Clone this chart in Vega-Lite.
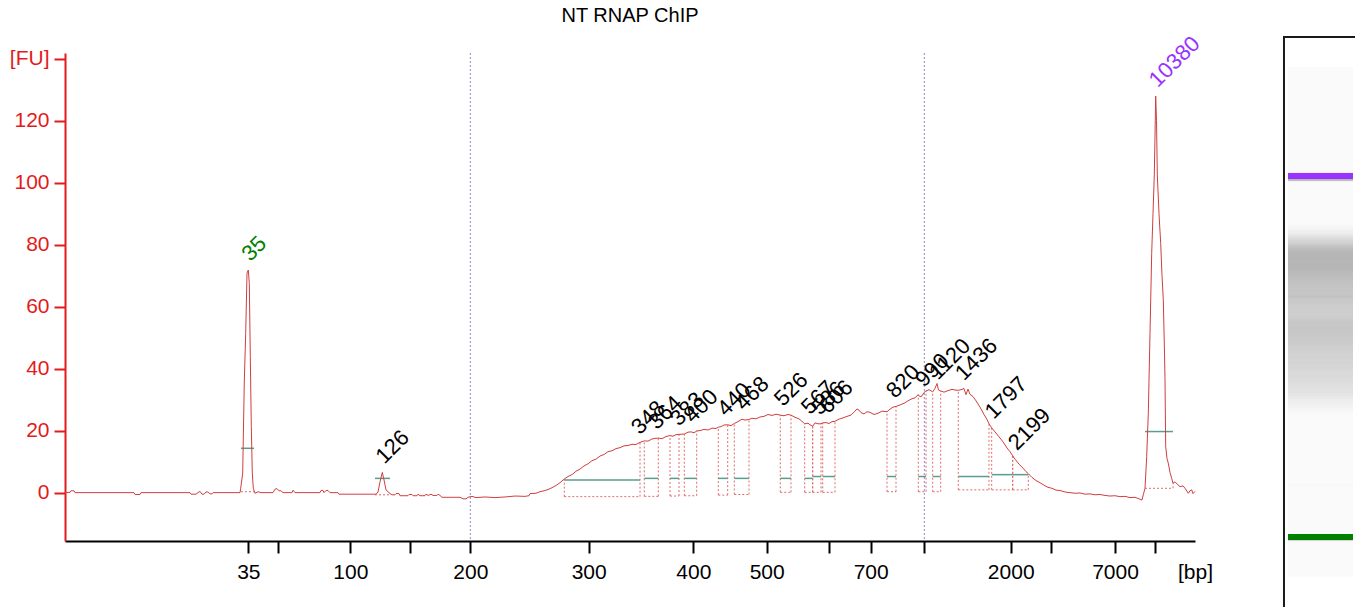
{
  "$schema": "https://vega.github.io/schema/vega-lite/v6.json",
  "width": 1130,
  "height": 488,
  "autosize": {"type": "none"},
  "padding": {"left": 65, "top": 53, "right": 160, "bottom": 66},
  "background": "white",
  "title": {"text": "NT RNAP ChIP", "fontSize": 20, "fontWeight": "normal", "font": "Liberation Sans", "color": "#000000", "offset": 6, "anchor": "middle"},
  "config": {"view": {"stroke": null}, "font": "Liberation Sans"},
  "datasets": {
    "trace": [
      {"t":6.5,"fu":0},{"t":7.0,"fu":0.1},{"t":7.1,"fu":0.6},{"t":7.4,"fu":0.6},{"t":7.5,"fu":0},{"t":13.4,"fu":0},{"t":13.5,"fu":-0.6},{"t":14.0,"fu":-0.6},{"t":14.1,"fu":0},{"t":19.0,"fu":0},{"t":19.1,"fu":-0.5},{"t":19.6,"fu":-0.5},{"t":19.8,"fu":0},{"t":20.0,"fu":0.4},{"t":20.2,"fu":-0.5},{"t":20.4,"fu":-0.5},{"t":20.6,"fu":0.2},{"t":20.8,"fu":0.2},{"t":21.0,"fu":-0.4},{"t":21.2,"fu":-0.4},{"t":21.3,"fu":0},{"t":24.0,"fu":0},{"t":24.07,"fu":1.4},{"t":24.27,"fu":6.3},{"t":24.43,"fu":36},{"t":24.57,"fu":51.4},{"t":24.7,"fu":70.8},{"t":24.83,"fu":71.8},{"t":24.93,"fu":67.5},{"t":25.03,"fu":43.9},{"t":25.13,"fu":21.3},{"t":25.23,"fu":6.3},{"t":25.33,"fu":1.4},{"t":25.5,"fu":-0.2},{"t":25.8,"fu":0.3},{"t":26.1,"fu":0},{"t":27.3,"fu":0},{"t":27.5,"fu":1.1},{"t":27.7,"fu":1.3},{"t":27.9,"fu":0.6},{"t":28.1,"fu":0.6},{"t":28.3,"fu":0},{"t":29.2,"fu":0},{"t":29.3,"fu":0.8},{"t":29.5,"fu":0},{"t":32.0,"fu":0},{"t":32.1,"fu":0.7},{"t":32.3,"fu":0.7},{"t":32.4,"fu":0},{"t":32.6,"fu":0.7},{"t":32.8,"fu":0.7},{"t":33.0,"fu":0},{"t":33.8,"fu":0},{"t":33.9,"fu":-0.5},{"t":37.6,"fu":-0.5},{"t":37.8,"fu":0.2},{"t":38.0,"fu":3.5},{"t":38.23,"fu":6.5},{"t":38.4,"fu":4.1},{"t":38.6,"fu":0.9},{"t":38.8,"fu":0.3},{"t":39.0,"fu":-0.3},{"t":39.2,"fu":-0.7},{"t":39.5,"fu":-0.7},{"t":39.6,"fu":-0.3},{"t":39.9,"fu":-0.3},{"t":40.0,"fu":-1.0},{"t":40.8,"fu":-1.0},{"t":40.9,"fu":-0.6},{"t":41.2,"fu":-0.6},{"t":41.3,"fu":-1.0},{"t":41.7,"fu":-1.0},{"t":41.8,"fu":-0.5},{"t":42.0,"fu":-1.0},{"t":42.5,"fu":-1.0},{"t":42.6,"fu":-0.5},{"t":42.8,"fu":-0.9},{"t":43.1,"fu":-0.5},{"t":43.3,"fu":-0.9},{"t":43.7,"fu":-0.9},{"t":43.8,"fu":-0.5},{"t":44.0,"fu":-0.9},{"t":44.2,"fu":-1.5},{"t":46.0,"fu":-1.5},{"t":46.3,"fu":-2.0},{"t":46.6,"fu":-2.0},{"t":46.8,"fu":-1.5},{"t":47.2,"fu":-1.2},{"t":47.6,"fu":-1.6},{"t":48.5,"fu":-1.4},{"t":49.5,"fu":-1.6},{"t":50.5,"fu":-1.4},{"t":51.5,"fu":-1.1},{"t":52.5,"fu":-1.2},{"t":52.9,"fu":-1.0},{"t":53.0,"fu":-0.3},{"t":53.6,"fu":-0.2},{"t":54.0,"fu":0.3},{"t":54.4,"fu":0.6},{"t":54.8,"fu":1.0},{"t":55.2,"fu":1.6},{"t":55.6,"fu":2.3},{"t":56.0,"fu":3.2},{"t":56.43,"fu":4.4},{"t":56.8,"fu":5.2},{"t":57.2,"fu":5.8},{"t":57.6,"fu":6.9},{"t":58.0,"fu":7.6},{"t":58.4,"fu":8.6},{"t":58.8,"fu":9.3},{"t":59.2,"fu":10.3},{"t":59.6,"fu":10.8},{"t":60.0,"fu":11.8},{"t":60.4,"fu":12.3},{"t":60.8,"fu":13.2},{"t":61.2,"fu":13.5},{"t":61.6,"fu":14.2},{"t":62.0,"fu":14.5},{"t":62.4,"fu":15.1},{"t":62.8,"fu":15.2},{"t":63.2,"fu":15.6},{"t":63.6,"fu":15.5},{"t":63.8,"fu":15.9},{"t":64.0,"fu":16.2},{"t":64.43,"fu":16.7},{"t":64.8,"fu":16.6},{"t":65.2,"fu":17.3},{"t":65.5,"fu":17.5},{"t":65.83,"fu":17.6},{"t":66.2,"fu":17.4},{"t":66.6,"fu":18.1},{"t":67.0,"fu":18.4},{"t":67.3,"fu":18.2},{"t":67.6,"fu":18.7},{"t":67.9,"fu":18.8},{"t":68.43,"fu":18.9},{"t":68.8,"fu":19.5},{"t":69.1,"fu":19.6},{"t":69.4,"fu":19.3},{"t":69.67,"fu":19.9},{"t":70.0,"fu":20.0},{"t":70.4,"fu":20.4},{"t":70.8,"fu":20.2},{"t":71.2,"fu":20.8},{"t":71.6,"fu":20.7},{"t":71.83,"fu":21.1},{"t":72.1,"fu":21.3},{"t":72.4,"fu":21.8},{"t":72.77,"fu":21.9},{"t":73.1,"fu":21.6},{"t":73.43,"fu":22.3},{"t":73.8,"fu":22.9},{"t":74.2,"fu":23.7},{"t":74.5,"fu":23.4},{"t":74.9,"fu":23.6},{"t":75.2,"fu":24.0},{"t":75.6,"fu":23.8},{"t":76.0,"fu":24.4},{"t":76.4,"fu":24.6},{"t":76.8,"fu":25.2},{"t":77.2,"fu":24.9},{"t":77.6,"fu":25.3},{"t":78.03,"fu":25.0},{"t":78.4,"fu":24.8},{"t":78.8,"fu":25.2},{"t":79.1,"fu":25.0},{"t":79.5,"fu":24.3},{"t":79.9,"fu":23.8},{"t":80.2,"fu":23.0},{"t":80.47,"fu":22.2},{"t":80.8,"fu":22.4},{"t":81.0,"fu":21.9},{"t":81.27,"fu":21.4},{"t":81.5,"fu":22.5},{"t":81.8,"fu":22.2},{"t":82.1,"fu":22.2},{"t":82.27,"fu":22.5},{"t":82.6,"fu":22.6},{"t":82.9,"fu":22.3},{"t":83.2,"fu":22.9},{"t":83.5,"fu":23.0},{"t":83.9,"fu":23.7},{"t":84.3,"fu":24.1},{"t":84.7,"fu":24.6},{"t":85.1,"fu":25.0},{"t":85.5,"fu":26.3},{"t":85.7,"fu":27.0},{"t":85.9,"fu":26.6},{"t":86.1,"fu":25.8},{"t":86.4,"fu":25.4},{"t":86.7,"fu":26.1},{"t":87.0,"fu":25.9},{"t":87.4,"fu":25.2},{"t":87.8,"fu":25.6},{"t":88.2,"fu":26.3},{"t":88.7,"fu":26.1},{"t":89.0,"fu":26.9},{"t":89.3,"fu":27.6},{"t":89.6,"fu":27.8},{"t":90.0,"fu":28.3},{"t":90.4,"fu":28.8},{"t":90.8,"fu":29.6},{"t":91.2,"fu":30.3},{"t":91.5,"fu":30.6},{"t":91.83,"fu":31.6},{"t":92.0,"fu":30.9},{"t":92.2,"fu":31.2},{"t":92.4,"fu":32.3},{"t":92.6,"fu":32.8},{"t":92.9,"fu":33.2},{"t":93.27,"fu":32.5},{"t":93.5,"fu":33.6},{"t":93.7,"fu":35.2},{"t":93.85,"fu":33.1},{"t":94.07,"fu":32.8},{"t":94.4,"fu":32.4},{"t":94.8,"fu":32.9},{"t":95.2,"fu":33.3},{"t":95.5,"fu":33.1},{"t":95.83,"fu":33.0},{"t":96.2,"fu":33.3},{"t":96.4,"fu":33.6},{"t":96.6,"fu":31.6},{"t":96.8,"fu":33.4},{"t":97.0,"fu":31.7},{"t":97.3,"fu":31.0},{"t":97.6,"fu":29.6},{"t":98.0,"fu":27.6},{"t":98.4,"fu":25.2},{"t":98.7,"fu":23.6},{"t":98.9,"fu":22.2},{"t":99.17,"fu":20.9},{"t":99.5,"fu":19.6},{"t":99.9,"fu":18.0},{"t":100.3,"fu":16.4},{"t":100.7,"fu":14.4},{"t":101.0,"fu":13.2},{"t":101.27,"fu":11.9},{"t":101.5,"fu":10.8},{"t":101.9,"fu":9.2},{"t":102.3,"fu":7.9},{"t":102.6,"fu":6.8},{"t":102.83,"fu":6.1},{"t":103.2,"fu":4.9},{"t":103.6,"fu":3.9},{"t":104.0,"fu":3.2},{"t":104.4,"fu":2.4},{"t":104.8,"fu":1.7},{"t":105.2,"fu":1.4},{"t":105.6,"fu":0.8},{"t":106.0,"fu":0.7},{"t":106.5,"fu":0.2},{"t":107.0,"fu":0.0},{"t":107.5,"fu":-0.2},{"t":108.0,"fu":-0.1},{"t":108.5,"fu":-0.5},{"t":109.0,"fu":-0.4},{"t":109.5,"fu":-0.7},{"t":110.0,"fu":-0.6},{"t":110.5,"fu":-0.9},{"t":111.0,"fu":-1.1},{"t":111.5,"fu":-1.0},{"t":112.0,"fu":-1.3},{"t":112.5,"fu":-1.2},{"t":113.0,"fu":-1.6},{"t":113.5,"fu":-1.5},{"t":113.9,"fu":-2.0},{"t":114.2,"fu":-2.4},{"t":114.33,"fu":-0.7},{"t":114.5,"fu":1.4},{"t":114.67,"fu":11.6},{"t":114.83,"fu":25.6},{"t":115.0,"fu":51.4},{"t":115.17,"fu":77.2},{"t":115.3,"fu":90},{"t":115.43,"fu":102.5},{"t":115.5,"fu":115},{"t":115.57,"fu":127.9},{"t":115.65,"fu":120},{"t":115.73,"fu":102.5},{"t":115.9,"fu":90},{"t":116.07,"fu":80.4},{"t":116.2,"fu":70},{"t":116.33,"fu":62.2},{"t":116.45,"fu":45},{"t":116.5,"fu":36.4},{"t":116.57,"fu":14.8},{"t":116.7,"fu":11},{"t":116.83,"fu":9.5},{"t":117.0,"fu":6.5},{"t":117.17,"fu":4.6},{"t":117.3,"fu":3.0},{"t":117.5,"fu":3.5},{"t":117.8,"fu":2.5},{"t":118.0,"fu":1.9},{"t":118.3,"fu":2.2},{"t":118.5,"fu":1.4},{"t":118.83,"fu":-0.2},{"t":119.0,"fu":0.6},{"t":119.17,"fu":0.9},{"t":119.3,"fu":-0.3},{"t":119.5,"fu":0.4}
    ],
    "peaks": [
      {"label":"35","kind":"lower","t":24.83,"fu":71.8,"t0":24.1,"t1":25.4,"base":0.3,"w":14.3,"top0":0.3,"top1":0.3},
      {"label":"126","kind":"peak","t":38.23,"fu":6.5,"t0":37.5,"t1":39.0,"base":-0.7,"w":4.6,"top0":-0.7,"top1":-0.7},
      {"label":"348","kind":"peak","t":63.8,"fu":15.9,"t0":56.43,"t1":64.0,"base":-1.3,"w":4.1,"top0":4.4,"top1":16.2},
      {"label":"364","kind":"peak","t":65.5,"fu":17.5,"t0":64.43,"t1":65.83,"base":-1.2,"w":4.6,"top0":16.7,"top1":17.6},
      {"label":"383","kind":"peak","t":67.7,"fu":18.7,"t0":67.0,"t1":67.9,"base":-1.1,"w":4.6,"top0":18.4,"top1":18.8},
      {"label":"400","kind":"peak","t":69.1,"fu":19.6,"t0":68.43,"t1":69.67,"base":-1.0,"w":4.6,"top0":18.9,"top1":19.9},
      {"label":"440","kind":"peak","t":72.4,"fu":21.8,"t0":71.83,"t1":72.77,"base":-0.8,"w":4.6,"top0":21.1,"top1":21.9},
      {"label":"468","kind":"peak","t":74.2,"fu":23.7,"t0":73.43,"t1":74.9,"base":-0.6,"w":4.6,"top0":22.3,"top1":23.6},
      {"label":"526","kind":"peak","t":78.1,"fu":25.0,"t0":78.03,"t1":79.1,"base":0.1,"w":4.6,"top0":25.0,"top1":25.0},
      {"label":"567","kind":"peak","t":80.8,"fu":22.4,"t0":80.47,"t1":81.27,"base":0.1,"w":4.6,"top0":22.2,"top1":21.4},
      {"label":"586","kind":"peak","t":81.8,"fu":22.2,"t0":81.27,"t1":82.1,"base":0.1,"w":5.2,"top0":21.4,"top1":22.2},
      {"label":"606","kind":"peak","t":82.6,"fu":22.6,"t0":82.27,"t1":83.5,"base":0.1,"w":5.2,"top0":22.5,"top1":23.0},
      {"label":"820","kind":"peak","t":89.3,"fu":27.6,"t0":88.7,"t1":89.6,"base":0.3,"w":5.2,"top0":26.1,"top1":27.8},
      {"label":"990","kind":"peak","t":92.2,"fu":31.2,"t0":91.83,"t1":92.6,"base":0.3,"w":5.2,"top0":31.6,"top1":32.8},
      {"label":"1120","kind":"peak","t":93.6,"fu":33.6,"t0":93.27,"t1":94.07,"base":0.3,"w":5.2,"top0":32.5,"top1":32.8},
      {"label":"1436","kind":"peak","t":96.2,"fu":33.3,"t0":95.83,"t1":98.9,"base":0.9,"w":5.2,"top0":33.0,"top1":22.2},
      {"label":"1797","kind":"peak","t":99.17,"fu":20.9,"t0":99.17,"t1":101.27,"base":0.9,"w":5.8,"top0":20.9,"top1":11.9},
      {"label":"2199","kind":"peak","t":101.5,"fu":10.8,"t0":101.27,"t1":102.83,"base":0.9,"w":5.8,"top0":11.9,"top1":6.1},
      {"label":"10380","kind":"upper","t":115.57,"fu":127.9,"t0":114.5,"t1":117.3,"base":1.4,"w":19.7,"top0":1.4,"top1":3.0}
    ],
    "regions": [{"t":47.03},{"t":92.43}],
    "markers": [{"marker":"upper","t":115.57},{"marker":"lower","t":24.83}]
  },
  "layer": [
    {
      "data": {"name": "regions"},
      "mark": {"type": "rule", "color": "#8a8ad0", "strokeDash": [2, 2], "strokeWidth": 1},
      "encoding": {
        "x": {"field": "t", "type": "quantitative", "scale": {"domain": [6.5, 119.5], "nice": false, "zero": false}, "axis": null}
      }
    },
    {
      "data": {"name": "peaks"},
      "mark": {"type": "rule", "color": "#e06a6a", "strokeDash": [2, 2], "strokeWidth": 1},
      "encoding": {
        "x": {"field": "t0", "type": "quantitative", "scale": {"domain": [6.5, 119.5], "nice": false, "zero": false}, "axis": null},
        "x2": {"field": "t1"},
        "y": {"field": "base", "type": "quantitative", "scale": {"domain": [-15.6, 141.8], "nice": false, "zero": false}, "axis": null}
      }
    },
    {
      "data": {"name": "peaks"},
      "mark": {"type": "rule", "color": "#e06a6a", "strokeDash": [2, 2], "strokeWidth": 1},
      "encoding": {
        "x": {"field": "t0", "type": "quantitative", "scale": {"domain": [6.5, 119.5], "nice": false, "zero": false}, "axis": null},
        "y": {"field": "base", "type": "quantitative", "scale": {"domain": [-15.6, 141.8], "nice": false, "zero": false}, "axis": null},
        "y2": {"field": "top0"}
      }
    },
    {
      "data": {"name": "peaks"},
      "mark": {"type": "rule", "color": "#e06a6a", "strokeDash": [2, 2], "strokeWidth": 1},
      "encoding": {
        "x": {"field": "t1", "type": "quantitative", "scale": {"domain": [6.5, 119.5], "nice": false, "zero": false}, "axis": null},
        "y": {"field": "base", "type": "quantitative", "scale": {"domain": [-15.6, 141.8], "nice": false, "zero": false}, "axis": null},
        "y2": {"field": "top1"}
      }
    },
    {
      "data": {"name": "peaks"},
      "mark": {"type": "rule", "color": "#5b9c91", "strokeWidth": 1.5},
      "encoding": {
        "x": {"field": "t0", "type": "quantitative", "scale": {"domain": [6.5, 119.5], "nice": false, "zero": false}, "axis": null},
        "x2": {"field": "t1"},
        "y": {"field": "w", "type": "quantitative", "scale": {"domain": [-15.6, 141.8], "nice": false, "zero": false}, "axis": null}
      }
    },
    {
      "data": {"name": "trace"},
      "mark": {"type": "line", "color": "#cf3f3f", "strokeWidth": 1, "interpolate": "linear"},
      "encoding": {
        "x": {
          "field": "t", "type": "quantitative",
          "scale": {"domain": [6.5, 119.5], "nice": false, "zero": false},
          "axis": {
            "orient": "bottom",
            "values": [24.83, 27.83, 35.03, 41.03, 47.03, 58.87, 69.33, 76.67, 82.87, 87.07, 92.43, 101.07, 105.1, 111.5, 115.5, 119.5],
            "labelExpr": "abs(datum.value-24.83)<0.01 ? '35' : abs(datum.value-35.03)<0.01 ? '100' : abs(datum.value-47.03)<0.01 ? '200' : abs(datum.value-58.87)<0.01 ? '300' : abs(datum.value-69.33)<0.01 ? '400' : abs(datum.value-76.67)<0.01 ? '500' : abs(datum.value-87.07)<0.01 ? '700' : abs(datum.value-101.07)<0.01 ? '2000' : abs(datum.value-111.5)<0.01 ? '7000' : abs(datum.value-119.5)<0.01 ? '[bp]' : ''",
            "title": null, "grid": false,
            "domainColor": "#000000", "domainWidth": 2,
            "tickColor": "#000000", "tickWidth": 2, "tickSize": 12,
            "tickOpacity": {"condition": {"test": "datum.value > 119", "value": 0}, "value": 1},
            "labelColor": "#000000", "labelFontSize": 21, "labelPadding": 8,
            "labelFont": "Liberation Sans",
            "labelFlush": false, "labelOverlap": false
          }
        },
        "y": {
          "field": "fu", "type": "quantitative",
          "scale": {"domain": [-15.6, 141.8], "nice": false, "zero": false},
          "axis": {
            "orient": "left",
            "values": [0, 20, 40, 60, 80, 100, 120, 140],
            "labelExpr": "datum.value == 140 ? '[FU]' : datum.label",
            "title": null, "grid": false,
            "domainColor": "#e41a1c", "domainWidth": 2,
            "tickColor": "#e41a1c", "tickWidth": 2, "tickSize": 11,
            "labelColor": "#e41a1c", "labelFontSize": 21, "labelPadding": 5,
            "labelFont": "Liberation Sans",
            "labelOverlap": false
          }
        }
      }
    },
    {
      "data": {"name": "peaks"},
      "mark": {"type": "text", "angle": -45, "align": "left", "baseline": "alphabetic", "dx": 7, "dy": -4, "fontSize": 22, "font": "Liberation Sans"},
      "encoding": {
        "x": {"field": "t", "type": "quantitative", "scale": {"domain": [6.5, 119.5], "nice": false, "zero": false}, "axis": null},
        "y": {"field": "fu", "type": "quantitative", "scale": {"domain": [-15.6, 141.8], "nice": false, "zero": false}, "axis": null},
        "text": {"field": "label"},
        "color": {"field": "kind", "type": "nominal", "scale": {"domain": ["lower", "peak", "upper"], "range": ["#008000", "#000000", "#9933ff"]}, "legend": null}
      }
    },
    {
      "data": {"values": [{}]},
      "mark": {"type": "rect", "fill": "#fafafa"},
      "encoding": {
        "x": {"datum": 0, "type": "quantitative", "scale": {"domain": [0, 1], "range": [1223, 1290], "nice": false, "zero": false}, "axis": null},
        "x2": {"datum": 0.97},
        "y": {"datum": 143.0, "type": "quantitative", "scale": {"domain": [24.83, 115.57], "range": [484, 123], "nice": false, "zero": false}, "axis": null},
        "y2": {"datum": 14.9}
      }
    },
    {
      "data": {"name": "trace"},
      "transform": [{"filter": "datum.t >= 15"}],
      "mark": {"type": "tick", "orient": "horizontal", "size": 65, "thickness": 4, "opacity": 1},
      "encoding": {
        "x": {"datum": 0.485, "type": "quantitative", "scale": {"domain": [0, 1], "range": [1223, 1290], "nice": false, "zero": false}, "axis": null},
        "y": {"field": "t", "type": "quantitative", "scale": {"domain": [24.83, 115.57], "range": [484, 123], "nice": false, "zero": false}, "axis": null},
        "color": {"field": "fu", "type": "quantitative", "scale": {"domain": [3, 10, 18, 26, 34], "range": ["#fafafa", "#eeeeee", "#d8d8d8", "#c4c4c4", "#b4b4b4"], "clamp": true, "interpolate": "rgb"}, "legend": null}
      }
    },
    {
      "data": {"name": "markers"},
      "transform": [{"filter": "datum.marker == 'upper'"}],
      "mark": {"type": "tick", "orient": "horizontal", "size": 65, "thickness": 6, "color": "#9933ff", "opacity": 1},
      "encoding": {
        "x": {"datum": 0.485, "type": "quantitative", "scale": {"domain": [0, 1], "range": [1223, 1290], "nice": false, "zero": false}, "axis": null},
        "y": {"field": "t", "type": "quantitative", "scale": {"domain": [24.83, 115.57], "range": [484, 123], "nice": false, "zero": false}, "axis": null}
      }
    },
    {
      "data": {"name": "markers"},
      "transform": [{"filter": "datum.marker == 'lower'"}],
      "mark": {"type": "tick", "orient": "horizontal", "size": 65, "thickness": 6, "color": "#008000", "opacity": 1},
      "encoding": {
        "x": {"datum": 0.485, "type": "quantitative", "scale": {"domain": [0, 1], "range": [1223, 1290], "nice": false, "zero": false}, "axis": null},
        "y": {"field": "t", "type": "quantitative", "scale": {"domain": [24.83, 115.57], "range": [484, 123], "nice": false, "zero": false}, "axis": null}
      }
    },
    {
      "data": {"values": [{}]},
      "mark": {"type": "rect", "fill": null, "stroke": "#1a1a1a", "strokeWidth": 2},
      "encoding": {
        "x": {"datum": -0.06, "type": "quantitative", "scale": {"domain": [0, 1], "range": [1223, 1290], "nice": false, "zero": false}, "axis": null},
        "x2": {"datum": 1.8},
        "y": {"datum": 150.5, "type": "quantitative", "scale": {"domain": [24.83, 115.57], "range": [484, 123], "nice": false, "zero": false}, "axis": null},
        "y2": {"datum": 0}
      }
    }
  ],
  "resolve": {"scale": {"x": "independent", "y": "independent", "color": "independent"}}
}
